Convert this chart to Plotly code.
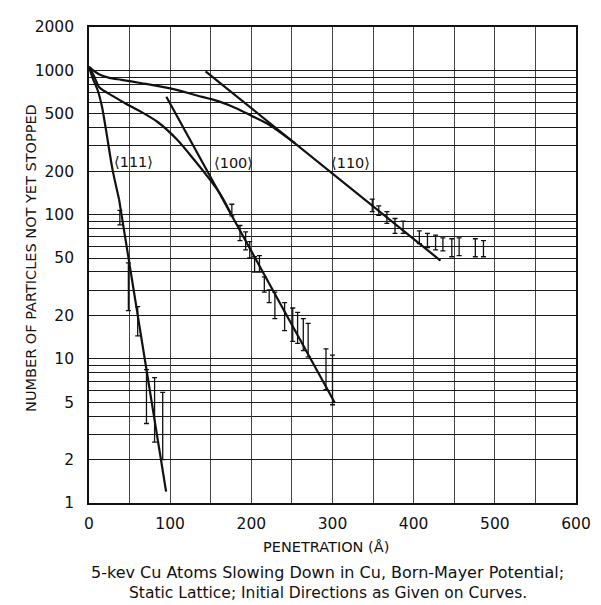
import math
import plotly.graph_objects as go

# ---------------- data ----------------
# smooth "computed" curves, penetration (Å) vs number of particles not yet stopped
c111_x = [0, 5, 11, 16, 21, 29, 37]
c111_y = [1060, 870, 720, 560, 385, 205, 128]
c100_x = [0, 6, 13, 29, 45, 65, 85, 109, 129.5, 145.6, 161.7, 175]
c100_y = [1060, 920, 760, 666, 590, 513, 437, 329, 240, 185, 139, 101]
c110_x = [0, 8, 15, 25, 40, 65, 100, 133, 160, 182, 200, 222, 254]
c110_y = [1060, 975, 925, 888, 860, 815, 750, 670, 610, 545, 485, 420, 312]

# straight fitted lines
l111_x = [37, 95]
l111_y = [128, 1.2]
l100_x = [95.3, 303]
l100_y = [656, 4.94]
l110_x = [143.6, 433]
l110_y = [986, 48]

# error bars (position, low, high)
e111_x = [38, 48.5, 60, 70.8, 80.8, 90.8]
e111_lo = [85, 21.6, 14.4, 3.56, 2.64, 2.0]
e111_hi = [107, 46.2, 23, 8.4, 7.4, 5.85]

e100_x = [176, 186, 193, 198, 204, 210, 216, 222, 229, 241, 251, 257, 264, 270, 292, 300]
e100_lo = [98, 66, 57, 50, 40, 40, 29, 24.5, 19, 15.7, 13.2, 12.8, 11.4, 10.3, 6.1, 4.8]
e100_hi = [118, 84, 76, 65, 51, 52, 37, 30, 29, 24.5, 22.5, 21, 19, 17.6, 11.7, 10.6]

e110_x = [349, 357, 367, 377, 387, 407, 417, 427, 436, 447, 456, 476, 486]
e110_lo = [105, 99, 87, 74, 74, 63, 59, 57, 56, 51, 52, 51, 51]
e110_hi = [128, 115, 105, 94, 90, 77, 74, 72, 69, 68, 69, 68, 66]

curve_labels = ["\u27e8111\u27e9", "\u27e8100\u27e9", "\u27e8110\u27e9"]
label_x = [55, 178, 322]
label_y = [232, 229, 228]

y_major = [1, 2, 5, 10, 20, 50, 100, 200, 500, 1000, 2000]
y_minor = [3, 4, 6, 7, 8, 9, 30, 40, 60, 70, 80, 90, 300, 400, 600, 700, 800, 900]
x_major = [0, 100, 200, 300, 400, 500, 600]
x_minor = [50, 150, 250, 350, 450, 550]

x_title = "PENETRATION (\u00c5)"
y_title = "NUMBER OF PARTICLES NOT YET STOPPED"
caption1 = "5-kev Cu Atoms Slowing Down in Cu, Born-Mayer Potential;"
caption2 = "Static Lattice; Initial Directions as Given on Curves."

# ---------------- figure ----------------
INK = "#111111"
FONT = "DejaVu Sans"

fig = go.Figure()

for cx, cy in [(c111_x, c111_y), (c100_x, c100_y), (c110_x, c110_y)]:
    fig.add_trace(go.Scatter(x=cx, y=cy, mode="lines",
                             line=dict(color=INK, width=2.2, shape="spline", smoothing=0.8),
                             hoverinfo="skip", showlegend=False))

for lx, ly in [(l111_x, l111_y), (l100_x, l100_y), (l110_x, l110_y)]:
    fig.add_trace(go.Scatter(x=lx, y=ly, mode="lines",
                             line=dict(color=INK, width=2.2),
                             hoverinfo="skip", showlegend=False))

for ex, lo, hi in [(e111_x, e111_lo, e111_hi), (e100_x, e100_lo, e100_hi), (e110_x, e110_lo, e110_hi)]:
    mid = [(a + b) / 2 for a, b in zip(lo, hi)]
    fig.add_trace(go.Scatter(
        x=ex, y=mid, mode="markers",
        marker=dict(size=1, color="rgba(0,0,0,0)"),
        error_y=dict(type="data", symmetric=False,
                     array=[h - m for h, m in zip(hi, mid)],
                     arrayminus=[m - l for m, l in zip(mid, lo)],
                     color=INK, thickness=1.3, width=2.5),
        hoverinfo="skip", showlegend=False))

# curve labels (log axis: annotation y is given in log10 units)
for t, lx, ly in zip(curve_labels, label_x, label_y):
    fig.add_annotation(x=lx, y=math.log10(ly), yref="y", xref="x", text=t, showarrow=False,
                       font=dict(family=FONT, size=14.5, color=INK))

# axis titles and caption (bottom)
fig.add_annotation(x=0.486, y=-0.092, xref="paper", yref="paper", text=x_title,
                   showarrow=False, yanchor="middle",
                   font=dict(family=FONT, size=14.5, color=INK))
fig.add_annotation(x=0.49, y=-0.146, xref="paper", yref="paper", text=caption1,
                   showarrow=False, yanchor="middle",
                   font=dict(family=FONT, size=16, color=INK))
fig.add_annotation(x=0.49, y=-0.189, xref="paper", yref="paper", text=caption2,
                   showarrow=False, yanchor="middle",
                   font=dict(family=FONT, size=15.5, color=INK))
fig.add_annotation(x=-0.119, y=0.515, xref="paper", yref="paper", text=y_title,
                   showarrow=False, textangle=-90, xanchor="center", yanchor="middle",
                   font=dict(family=FONT, size=14.5, color=INK))

# the page body adds an 8px offset, so the figure is 8px smaller and shifted
fig.update_layout(
    width=593, height=597,
    margin=dict(l=81, r=14, t=10, b=102),
    paper_bgcolor="white", plot_bgcolor="white",
    font=dict(family=FONT, size=15, color=INK),
    xaxis=dict(range=[0, 600], tickmode="array", tickvals=x_major,
               ticktext=[str(v) for v in x_major],
               showgrid=True, gridcolor="#444444", gridwidth=1,
               minor=dict(tickmode="array", tickvals=x_minor, showgrid=True,
                          gridcolor="#444444", gridwidth=1, ticklen=0),
               showline=True, mirror=True, linecolor=INK, linewidth=1.6,
               zeroline=False, ticks="", ticklabelstandoff=6,
               ticklabeloverflow="allow",
               tickfont=dict(family=FONT, size=15.5, color=INK)),
    yaxis=dict(type="log", range=[0, 3.30103], tickmode="array", tickvals=y_major,
               ticktext=[str(v) for v in y_major],
               showgrid=True, gridcolor="#1a1a1a", gridwidth=1.4,
               minor=dict(tickmode="array", tickvals=y_minor, showgrid=True,
                          gridcolor="#1a1a1a", gridwidth=1.4, ticklen=0),
               showline=True, mirror=True, linecolor=INK, linewidth=1.6,
               zeroline=False, ticks="", ticklabelstandoff=10,
               tickfont=dict(family=FONT, size=15.5, color=INK)),
)

fig.write_html("out.html")
